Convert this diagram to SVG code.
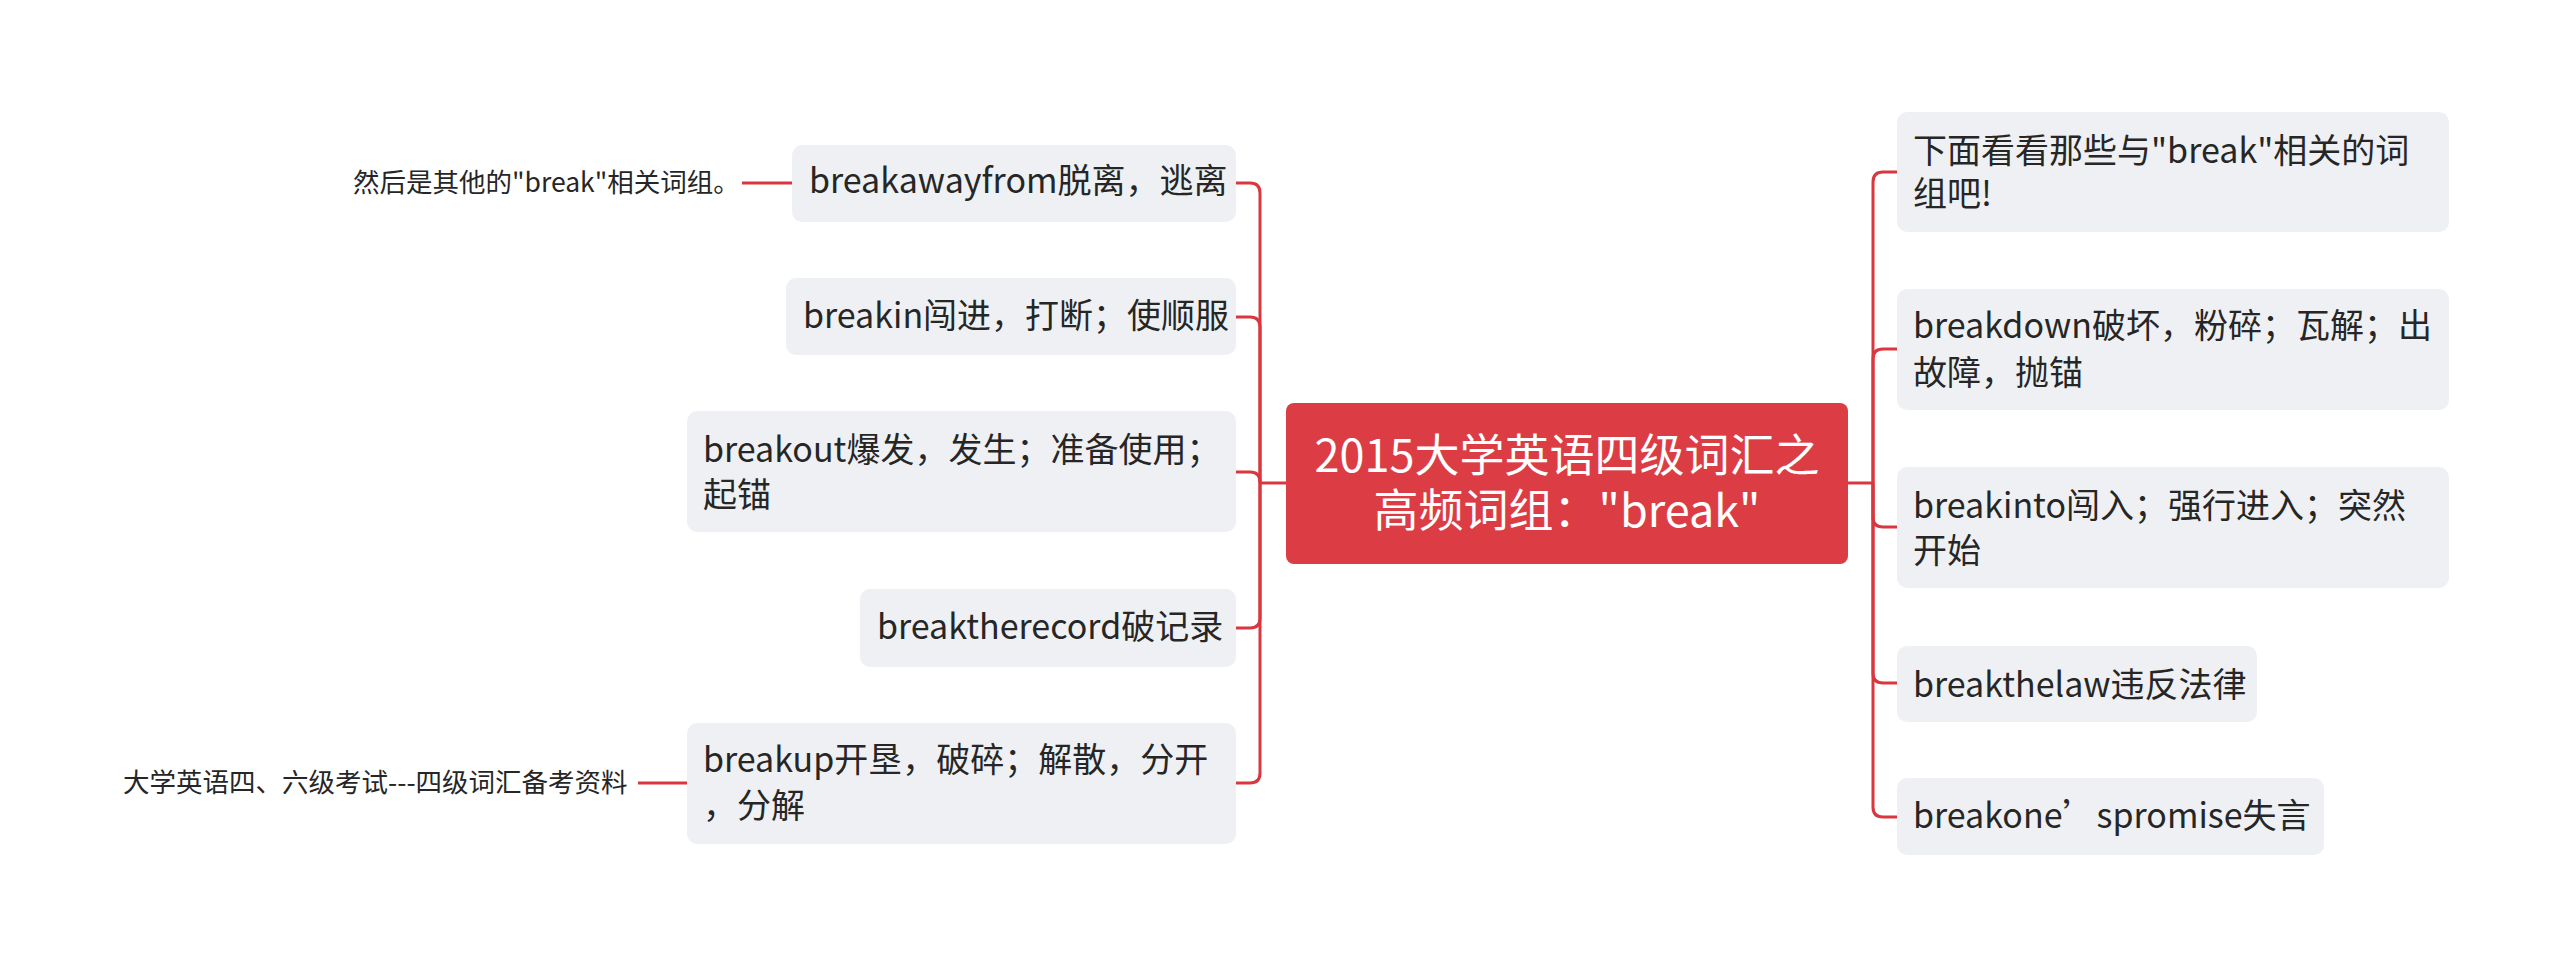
<svg xmlns="http://www.w3.org/2000/svg" width="2560" height="967" viewBox="0 0 2560 967">
<style>
.node{fill:#eef0f3}
.root{fill:#dc3d45}
.t{font-family:"Noto Sans CJK SC","Noto Sans",sans-serif;font-size:34px;fill:#262626}
.rt{font-family:"Noto Sans CJK SC","Noto Sans",sans-serif;font-size:45px;fill:#ffffff;text-anchor:middle}
.lb{font-family:"Noto Sans CJK SC","Noto Sans",sans-serif;font-size:26.5px;fill:#262626}
.c{fill:none;stroke:#d9363e;stroke-width:3}
</style>
<rect width="2560" height="967" fill="#ffffff"/>
<g id="connectors">
<path class="c" d="M1848,483 H1873"/>
<path class="c" d="M1873,483 V182 Q1873,172 1883,172 H1897"/>
<path class="c" d="M1873,483 V359 Q1873,349 1883,349 H1897"/>
<path class="c" d="M1873,483 V517 Q1873,527 1883,527 H1897"/>
<path class="c" d="M1873,483 V673 Q1873,683 1883,683 H1897"/>
<path class="c" d="M1873,483 V807 Q1873,817 1883,817 H1897"/>
<path class="c" d="M1286,483 H1260"/>
<path class="c" d="M1260,483 V193 Q1260,183 1250,183 H1236"/>
<path class="c" d="M1260,483 V327 Q1260,317 1250,317 H1236"/>
<path class="c" d="M1260,483 V482 Q1260,472 1250,472 H1236"/>
<path class="c" d="M1260,483 V618 Q1260,628 1250,628 H1236"/>
<path class="c" d="M1260,483 V773 Q1260,783 1250,783 H1236"/>
<path class="c" d="M792,183 H742"/>
<path class="c" d="M687,783 H638"/>
</g>
<g id="root">
<rect class="root" x="1286" y="403" width="562" height="161" rx="8"/>
<text class="rt" x="1567" y="472">2015大学英语四级词汇之</text>
<text class="rt" x="1567" y="527">高频词组："break"</text>
</g>
<g id="r1">
<rect class="node" x="1897" y="112" width="552" height="120" rx="10"/>
<text class="t" x="1913" y="163">下面看看那些与"break"相关的词</text>
<text class="t" x="1913" y="206">组吧!</text>
</g>
<g id="r2">
<rect class="node" x="1897" y="289" width="552" height="121" rx="10"/>
<text class="t" x="1913" y="338">breakdown破坏，粉碎；瓦解；出</text>
<text class="t" x="1913" y="385">故障，抛锚</text>
</g>
<g id="r3">
<rect class="node" x="1897" y="467" width="552" height="121" rx="10"/>
<text class="t" x="1913" y="518">breakinto闯入；强行进入；突然</text>
<text class="t" x="1913" y="563">开始</text>
</g>
<g id="r4">
<rect class="node" x="1897" y="646" width="360" height="76" rx="10"/>
<text class="t" x="1913" y="697">breakthelaw违反法律</text>
</g>
<g id="r5">
<rect class="node" x="1897" y="778" width="427" height="77" rx="10"/>
<text class="t" x="1913" y="828">breakone’spromise失言</text>
</g>
<g id="l1">
<rect class="node" x="792" y="145" width="444" height="77" rx="10"/>
<text class="t" x="809" y="193">breakawayfrom脱离，逃离</text>
</g>
<g id="l1a">
<text class="lb" x="353" y="192">然后是其他的"break"相关词组。</text>
</g>
<g id="l2">
<rect class="node" x="786" y="278" width="450" height="77" rx="10"/>
<text class="t" x="803" y="328">breakin闯进，打断；使顺服</text>
</g>
<g id="l3">
<rect class="node" x="687" y="411" width="549" height="121" rx="10"/>
<text class="t" x="703" y="462">breakout爆发，发生；准备使用；</text>
<text class="t" x="703" y="507">起锚</text>
</g>
<g id="l4">
<rect class="node" x="860" y="589" width="376" height="78" rx="10"/>
<text class="t" x="877" y="639">breaktherecord破记录</text>
</g>
<g id="l5">
<rect class="node" x="687" y="723" width="549" height="121" rx="10"/>
<text class="t" x="703" y="772">breakup开垦，破碎；解散，分开</text>
<text class="t" x="703" y="818">，分解</text>
</g>
<g id="l5a">
<text class="lb" x="123" y="792">大学英语四、六级考试---四级词汇备考资料</text>
</g>
</svg>
